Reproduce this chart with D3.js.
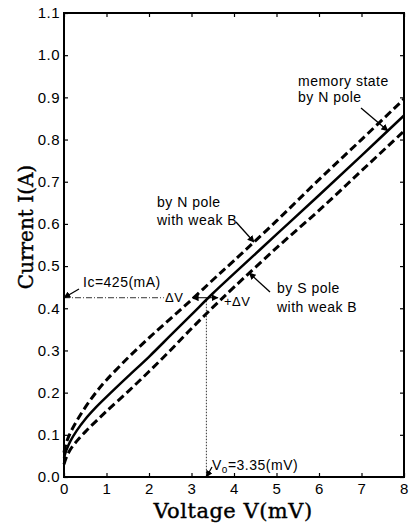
<!DOCTYPE html>
<html>
<head>
<meta charset="utf-8">
<title>I-V curve</title>
<script src="https://cdn.jsdelivr.net/npm/d3@7"></script>
<style>
body{margin:0;background:#fff;}
</style>
</head>
<body>
<script>
// values
var voltage    = [0, 0.05, 0.15, 0.3, 0.5, 0.75, 1, 1.5, 2, 2.5, 3, 3.5, 4, 5, 6, 7, 8];
var memoryN    = [0.045, 0.062, 0.085, 0.11, 0.137, 0.165, 0.19, 0.238, 0.285, 0.335, 0.385, 0.435, 0.482, 0.575, 0.668, 0.762, 0.857];
var nPoleWeak  = [0.058, 0.08, 0.105, 0.133, 0.165, 0.2, 0.23, 0.282, 0.33, 0.375, 0.42, 0.467, 0.513, 0.607, 0.705, 0.8, 0.896];
var sPoleWeak  = [0.03, 0.045, 0.065, 0.085, 0.107, 0.132, 0.156, 0.202, 0.25, 0.3, 0.352, 0.402, 0.45, 0.543, 0.632, 0.726, 0.82];
var xTicks = [0, 1, 2, 3, 4, 5, 6, 7, 8];
var yTicks = [0.0, 0.1, 0.2, 0.3, 0.4, 0.5, 0.6, 0.7, 0.8, 0.9, 1.0, 1.1];
var Ic = 0.425;   // A
var V0 = 3.35;    // mV

var width = 409, height = 523;
var pLeft = 64, pRight = 404, pTop = 13, pBottom = 477;

var svg = d3.select("body").append("svg")
    .attr("width", width)
    .attr("height", height)
    .style("font-family", "'Liberation Sans', Arial, sans-serif");

var x = d3.scaleLinear().domain([0, 8]).range([pLeft, pRight]);
var y = d3.scaleLinear().domain([0, 1.1]).range([pBottom, pTop]);

// arrow head
svg.append("defs").append("marker")
    .attr("id", "arr")
    .attr("viewBox", "0 0 10 10")
    .attr("refX", 9).attr("refY", 5)
    .attr("markerWidth", 7).attr("markerHeight", 7)
    .attr("markerUnits", "userSpaceOnUse")
    .attr("orient", "auto")
  .append("path")
    .attr("d", "M0,0L10,5L0,10z")
    .attr("fill", "#000");

// axes, ticks pointing inward
function styleAxis(g) {
  g.select(".domain").remove();
  g.selectAll(".tick line").attr("stroke", "#000").attr("stroke-width", 1.2);
  g.selectAll(".tick text").attr("fill", "#000")
    .style("font-size", "15px").style("letter-spacing", "0.5px");
}
svg.append("g").attr("transform", "translate(0," + pBottom + ")")
  .call(d3.axisBottom(x).tickValues(xTicks).tickSize(-4).tickPadding(6).tickFormat(d3.format("d")))
  .call(styleAxis);
svg.append("g").attr("transform", "translate(0," + pTop + ")")
  .call(d3.axisTop(x).tickValues(xTicks).tickSize(-4).tickFormat(""))
  .call(styleAxis);
svg.append("g").attr("transform", "translate(" + pLeft + ",0)")
  .call(d3.axisLeft(y).tickValues(yTicks).tickSize(-4).tickPadding(4).tickFormat(d3.format(".1f")))
  .call(styleAxis);
svg.append("g").attr("transform", "translate(" + pRight + ",0)")
  .call(d3.axisRight(y).tickValues(yTicks).tickSize(-4).tickFormat(""))
  .call(styleAxis);

svg.append("rect")
    .attr("x", pLeft).attr("y", pTop)
    .attr("width", pRight - pLeft).attr("height", pBottom - pTop)
    .attr("fill", "none").attr("stroke", "#000").attr("stroke-width", 2);

// axis titles
svg.append("text")
    .attr("x", 233).attr("y", 518)
    .attr("text-anchor", "middle")
    .style("font-family", "'DejaVu Serif', serif")
    .style("font-size", "21px").style("letter-spacing", "0.5px")
    .attr("stroke", "#000").attr("stroke-width", 0.4)
    .text("Voltage V(mV)");
svg.append("text")
    .attr("transform", "translate(33,227) rotate(-90)")
    .attr("text-anchor", "middle")
    .style("font-family", "'DejaVu Serif', serif")
    .style("font-size", "20px")
    .attr("stroke", "#000").attr("stroke-width", 0.4)
    .text("Current I(A)");

// curves
var line = d3.line()
    .x(function(d) { return x(d[0]); })
    .y(function(d) { return y(d[1]); })
    .curve(d3.curveCatmullRom);
function pts(vals) { return voltage.map(function(v, i) { return [v, vals[i]]; }); }

svg.append("path").datum(pts(nPoleWeak))
    .attr("d", line).attr("fill", "none").attr("stroke", "#000")
    .attr("stroke-width", 3).attr("stroke-dasharray", "8,4");
svg.append("path").datum(pts(sPoleWeak))
    .attr("d", line).attr("fill", "none").attr("stroke", "#000")
    .attr("stroke-width", 3).attr("stroke-dasharray", "8,4");
svg.append("path").datum(pts(memoryN))
    .attr("d", line).attr("fill", "none").attr("stroke", "#000")
    .attr("stroke-width", 2.5);

// value on a curve at voltage v
function at(vals, v) {
  return d3.scaleLinear().domain(voltage).range(vals)(v);
}

// Ic / V0 guide lines
svg.append("line")
    .attr("x1", x(0)).attr("x2", x(2.35))
    .attr("y1", y(Ic)).attr("y2", y(Ic))
    .attr("stroke", "#000").attr("stroke-width", 0.8).attr("stroke-dasharray", "6,2,1,2");
svg.append("line")
    .attr("x1", x(V0)).attr("x2", x(V0))
    .attr("y1", y(Ic)).attr("y2", y(0))
    .attr("stroke", "#000").attr("stroke-width", 0.8).attr("stroke-dasharray", "1.5,1.5");

// ±ΔV arrows
svg.append("line")
    .attr("x1", x(V0)).attr("x2", x(3.02))
    .attr("y1", y(Ic)).attr("y2", y(Ic))
    .attr("stroke", "#000").attr("stroke-width", 1).attr("marker-end", "url(#arr)");
svg.append("line")
    .attr("x1", x(V0)).attr("x2", x(3.62))
    .attr("y1", y(Ic)).attr("y2", y(Ic))
    .attr("stroke", "#000").attr("stroke-width", 1).attr("marker-end", "url(#arr)");

function label(px, py, txt, size) {
  return svg.append("text").attr("x", px).attr("y", py)
    .style("font-size", (size || 14) + "px").style("letter-spacing", "0.5px")
    .text(txt);
}
function arrow(x1, y1, x2, y2) {
  svg.append("line")
    .attr("x1", x1).attr("y1", y1).attr("x2", x2).attr("y2", y2)
    .attr("stroke", "#000").attr("stroke-width", 1.3).attr("marker-end", "url(#arr)");
}

label(165, 302, "\u0394V", 13);
label(224, 306, "+\u0394V", 13);

label(83, 287, "Ic=425(mA)");
arrow(79, 289, x(0), y(Ic));

var v0Text = svg.append("text").attr("x", 212).attr("y", 470)
    .style("font-size", "14px").style("letter-spacing", "0.5px");
v0Text.append("tspan").text("V");
v0Text.append("tspan").attr("dy", 3).style("font-size", "10px").text("o");
v0Text.append("tspan").attr("dy", -3).text("=3.35(mV)");
arrow(212, 467, x(V0), y(0));

label(298, 86, "memory state");
label(298, 102, "by N pole");
arrow(361, 108, x(7.62), y(at(memoryN, 7.62)));

label(157, 207, "by N pole");
label(157, 225, "with weak B");
arrow(236, 222, x(4.47), y(at(nPoleWeak, 4.47)));

label(277, 293, "by S pole");
label(277, 312, "with weak B");
arrow(270, 292, x(4.36), y(at(sPoleWeak, 4.36)));
</script>
</body>
</html>
